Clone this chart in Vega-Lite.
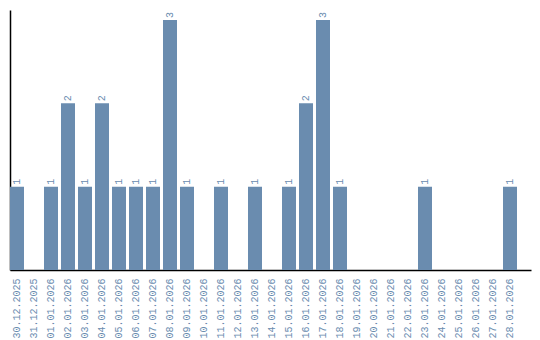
{
  "$schema": "https://vega.github.io/schema/vega-lite/v6.json",
  "autosize": "none",
  "width": 521,
  "height": 260,
  "padding": {"left": 10, "top": 10, "right": 9, "bottom": 70},
  "background": "white",
  "config": {"view": {"stroke": null}},
  "data": {"values": [
    {"date": "30.12.2025", "count": 1},
    {"date": "31.12.2025", "count": 0},
    {"date": "01.01.2026", "count": 1},
    {"date": "02.01.2026", "count": 2},
    {"date": "03.01.2026", "count": 1},
    {"date": "04.01.2026", "count": 2},
    {"date": "05.01.2026", "count": 1},
    {"date": "06.01.2026", "count": 1},
    {"date": "07.01.2026", "count": 1},
    {"date": "08.01.2026", "count": 3},
    {"date": "09.01.2026", "count": 1},
    {"date": "10.01.2026", "count": 0},
    {"date": "11.01.2026", "count": 1},
    {"date": "12.01.2026", "count": 0},
    {"date": "13.01.2026", "count": 1},
    {"date": "14.01.2026", "count": 0},
    {"date": "15.01.2026", "count": 1},
    {"date": "16.01.2026", "count": 2},
    {"date": "17.01.2026", "count": 3},
    {"date": "18.01.2026", "count": 1},
    {"date": "19.01.2026", "count": 0},
    {"date": "20.01.2026", "count": 0},
    {"date": "21.01.2026", "count": 0},
    {"date": "22.01.2026", "count": 0},
    {"date": "23.01.2026", "count": 1},
    {"date": "24.01.2026", "count": 0},
    {"date": "25.01.2026", "count": 0},
    {"date": "26.01.2026", "count": 0},
    {"date": "27.01.2026", "count": 0},
    {"date": "28.01.2026", "count": 1}
  ]},
  "encoding": {
    "x": {
      "field": "date", "type": "nominal", "sort": null,
      "scale": {"paddingInner": 0.1765, "paddingOuter": 0.4118, "align": 0},
      "axis": {
        "title": null, "ticks": false, "domainColor": "#000000", "domainWidth": 1.5,
        "labelAngle": -90, "labelPadding": 8, "labelColor": "#6a8caf",
        "labelFont": "Liberation Mono", "labelFontSize": 10, "grid": false
      }
    },
    "y": {
      "field": "count", "type": "quantitative",
      "scale": {"domain": [0, 3.12], "nice": false},
      "axis": {
        "title": null, "ticks": false, "labels": false, "grid": false,
        "domainColor": "#000000", "domainWidth": 1.5
      }
    }
  },
  "layer": [
    {"mark": {"type": "bar", "color": "#6a8caf"}},
    {
      "transform": [{"filter": "datum.count > 0"}],
      "mark": {
        "type": "text", "angle": -90, "align": "left", "baseline": "middle",
        "dx": 2, "color": "#6a8caf", "font": "Liberation Mono", "fontSize": 10
      },
      "encoding": {"text": {"field": "count", "type": "quantitative"}}
    }
  ]
}
